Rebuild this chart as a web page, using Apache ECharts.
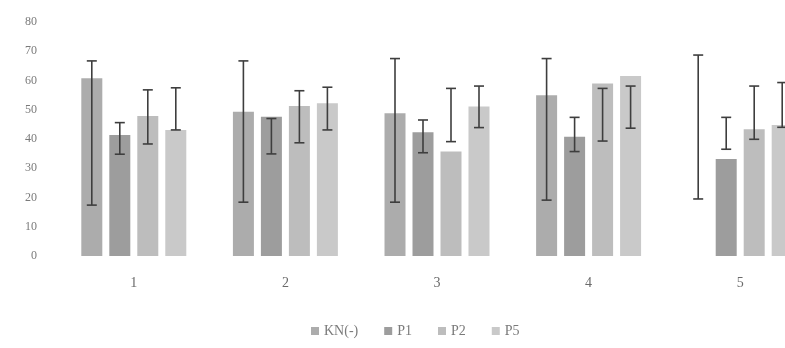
<!DOCTYPE html>
<html>
<head>
<meta charset="utf-8">
<script src="https://cdn.jsdelivr.net/npm/echarts@6/dist/echarts.min.js"></script>
<style>
  html, body { margin: 0; padding: 0; background: #fff; overflow: hidden; }
  /* the plot runs past the right edge of the page, so the last group is cut */
  #chart { width: 820px; height: 348px; }
</style>
</head>
<body>
<div id="chart"></div>
<script>
// Groups on the x axis
const categories = ['1', '2', '3', '4', '5'];
const seriesNames = ['KN(-)', 'P1', 'P2', 'P5'];
const yTicks = [0, 10, 20, 30, 40, 50, 60, 70, 80];

// Mean values per series
const knNeg = [60.8, 49.3, 48.8, 55.0, 0];
const p1 = [41.4, 47.6, 42.3, 40.8, 33.2];
const p2 = [47.9, 51.3, 35.7, 59.0, 43.3];
const p5 = [43.1, 52.2, 51.1, 61.5, 44.8];

// Error bar ends (upper / lower) per series
const knHigh = [66.7, 66.7, 67.5, 67.5, 68.7];
const knLow = [17.4, 18.4, 18.4, 19.1, 19.5];
const p1High = [45.6, 47.0, 46.5, 47.4, 47.4];
const p1Low = [34.8, 34.9, 35.3, 35.7, 36.5];
const p2High = [56.8, 56.5, 57.3, 57.3, 58.1];
const p2Low = [38.3, 38.7, 39.1, 39.3, 39.9];
const p5High = [57.5, 57.7, 58.1, 58.1, 59.3];
const p5Low = [43.1, 43.1, 43.9, 43.7, 44.0];

const values = [knNeg, p1, p2, p5];
const highs = [knHigh, p1High, p2High, p5High];
const lows = [knLow, p1Low, p2Low, p5Low];
const colors = ['#acacac', '#9d9d9d', '#bdbdbd', '#c9c9c9'];

const BAR_W = 21;
const BAR_GAP = 7;
const FONT = '"Liberation Serif", "DejaVu Serif", serif';

function errorSeries(idx) {
  const offset = (idx - 1.5) * (BAR_W + BAR_GAP);
  return {
    type: 'custom',
    name: seriesNames[idx] + ' err',
    z: 5,
    data: categories.map((c, i) => [i, lows[idx][i], highs[idx][i]]),
    renderItem: function (params, api) {
      const lo = api.coord([api.value(0), api.value(1)]);
      const hi = api.coord([api.value(0), api.value(2)]);
      const x = lo[0] + offset;
      const cap = 5;
      const style = { stroke: '#3e3e3e', lineWidth: 1.6 };
      return {
        type: 'group',
        children: [
          { type: 'line', shape: { x1: x, y1: lo[1], x2: x, y2: hi[1] }, style: style },
          { type: 'line', shape: { x1: x - cap, y1: hi[1], x2: x + cap, y2: hi[1] }, style: style },
          { type: 'line', shape: { x1: x - cap, y1: lo[1], x2: x + cap, y2: lo[1] }, style: style }
        ]
      };
    }
  };
}

const barSeries = seriesNames.map((name, idx) => ({
  type: 'bar',
  name: name,
  data: values[idx],
  barWidth: BAR_W,
  barGap: (BAR_GAP / BAR_W * 100).toFixed(1) + '%',
  itemStyle: { color: colors[idx] }
}));

const chart = echarts.init(document.getElementById('chart'), null, { renderer: 'canvas' });
chart.setOption({
  animation: false,
  backgroundColor: '#ffffff',
  textStyle: { fontFamily: FONT },
  grid: { left: 58, top: 22, right: 4, bottom: 92, containLabel: false },
  legend: {
    data: seriesNames,
    left: 306,
    top: 319,
    icon: 'rect',
    itemWidth: 8,
    itemHeight: 8,
    itemGap: 26,
    textStyle: { color: '#7a7a7a', fontSize: 14, fontFamily: FONT }
  },
  xAxis: {
    type: 'category',
    data: categories,
    axisLine: { show: false },
    axisTick: { show: false },
    axisLabel: { color: '#6a6a6a', fontSize: 14, margin: 20, fontFamily: FONT }
  },
  yAxis: {
    type: 'value',
    min: yTicks[0],
    max: yTicks[yTicks.length - 1],
    interval: 10,
    splitLine: { show: false },
    axisLine: { show: false },
    axisTick: { show: false },
    axisLabel: { color: '#7a7a7a', fontSize: 12, margin: 21, fontFamily: FONT }
  },
  series: barSeries.concat([0, 1, 2, 3].map(errorSeries))
});
</script>
</body>
</html>
